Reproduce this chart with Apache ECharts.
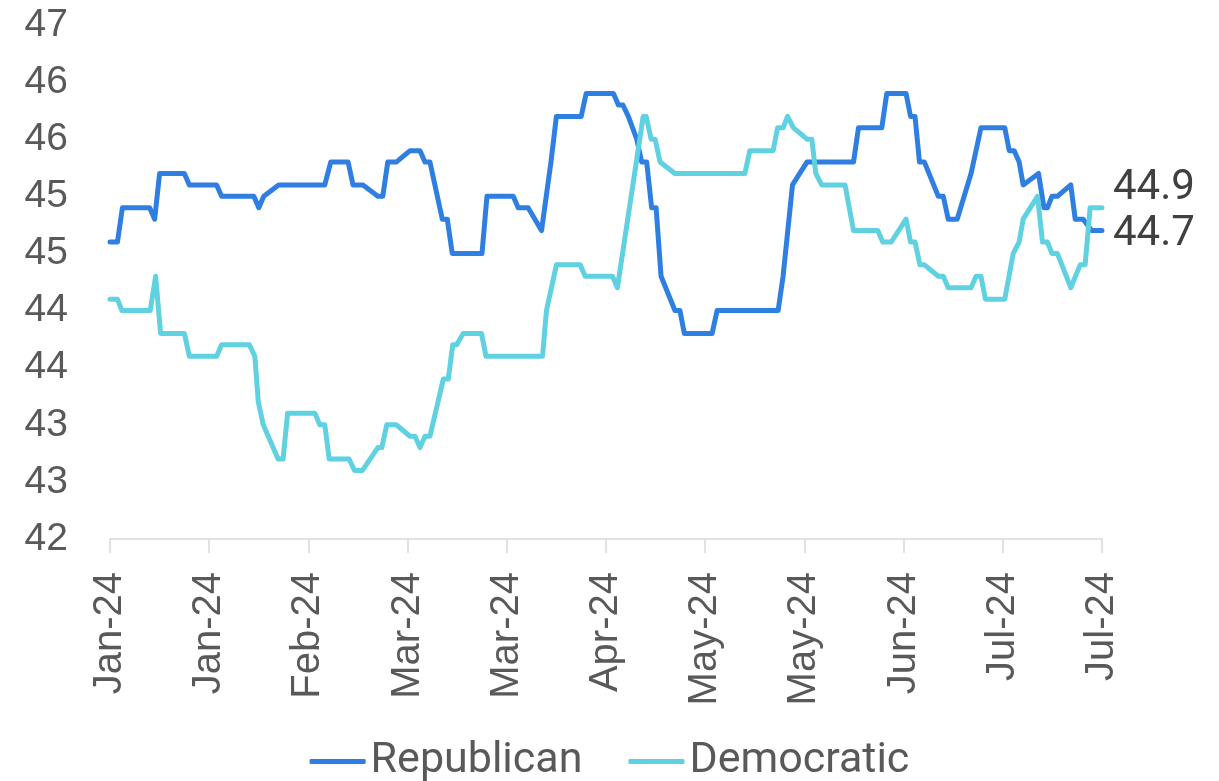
<!DOCTYPE html>
<html>
<head>
<meta charset="utf-8">
<script src="https://cdn.jsdelivr.net/npm/echarts@6/dist/echarts.min.js"></script>
<style>
html,body{margin:0;padding:0;background:#fff;}
#chart{width:1219px;height:781px;}
</style>
</head>
<body>
<div id="chart"></div>
<script>
// Day offsets from 2024-01-03 and values
const startDate = Date.UTC(2024, 0, 3);
const monthNames = ['Jan','Feb','Mar','Apr','May','Jun','Jul','Aug','Sep','Oct','Nov','Dec'];
const seriesNames = ['Republican', 'Democratic'];

const repDay = [0,1.5,2.5,8,9,10,15,16,21.5,22.5,29,30,31,34,43.3,44.5,48,49,51,54,55,56,57.7,60.5,62.5,63.5,64.5,67,68,69,75,76,81.3,82.3,84.3,87,88.9,90,95,96,101.5,102.5,103.4,104.5,106.2,107.2,108.2,109.2,110.1,111.1,113.9,114.9,115.8,121.4,122.4,134.7,135.7,137.6,140.5,149.9,150.9,155.6,156.6,160.5,161.4,162.3,163.2,164.2,167,168,169,170.8,173.6,175.6,180.4,181.3,182.3,183.3,184.1,187.2,188.3,189,189.9,191,193.7,194.6,196.2,197.9,200];
const repValue = [44.6,44.6,44.9,44.9,44.8,45.2,45.2,45.1,45.1,45.0,45.0,44.9,45.0,45.1,45.1,45.3,45.3,45.1,45.1,45.0,45.0,45.3,45.3,45.4,45.4,45.3,45.3,44.8,44.8,44.5,44.5,45.0,45.0,44.9,44.9,44.7,45.3,45.7,45.7,45.9,45.9,45.8,45.8,45.7,45.5,45.3,45.3,44.9,44.9,44.3,44.0,44.0,43.8,43.8,44.0,44.0,44.3,45.1,45.3,45.3,45.6,45.6,45.9,45.9,45.7,45.7,45.3,45.3,45.0,45.0,44.8,44.8,45.2,45.6,45.6,45.4,45.4,45.3,45.1,45.2,44.9,44.9,45.0,45.0,45.1,44.8,44.8,44.7,44.7];

const demDay = [0,1.5,2.4,8.1,9.2,10.2,15,16,21.5,22.5,28.1,29.2,29.9,30.9,33.9,34.9,35.8,41.3,42.3,43.3,44.2,48.2,49.3,50.9,54,54.8,55.8,57.7,60.5,61.5,62.5,63.5,64.5,67.2,68.2,69.1,69.9,71.2,74.9,75.8,87.2,88,90,94.8,95.8,101.3,102.3,107.5,108.1,109.1,109.9,110.9,113.9,128,129,133.7,134.6,135.7,136.6,137.8,140.5,141.5,142.3,143.5,148.2,149.9,154.8,155.8,157.5,160.5,161.4,162.3,163.3,164.2,167,168,169,173.6,174.6,175.6,176.5,180.4,182.1,183.3,184.1,187,188,189,189.9,191,193.7,195.6,196.6,197.6,200];
const demValue = [44.1,44.1,44.0,44.0,44.3,43.8,43.8,43.6,43.6,43.7,43.7,43.6,43.2,43.0,42.7,42.7,43.1,43.1,43.0,43.0,42.7,42.7,42.6,42.6,42.8,42.8,43.0,43.0,42.9,42.9,42.8,42.9,42.9,43.4,43.4,43.7,43.7,43.8,43.8,43.6,43.6,44.0,44.4,44.4,44.3,44.3,44.2,45.7,45.7,45.5,45.5,45.3,45.2,45.2,45.4,45.4,45.6,45.6,45.7,45.6,45.5,45.5,45.2,45.1,45.1,44.7,44.7,44.6,44.6,44.8,44.6,44.6,44.4,44.4,44.3,44.3,44.2,44.2,44.3,44.3,44.1,44.1,44.5,44.6,44.8,45.0,44.6,44.6,44.5,44.5,44.2,44.4,44.4,44.9,44.9];

const xMin = 0, xMax = 200, xInterval = 20;
const yMin = 42, yMax = 46.5, yInterval = 0.5;

function pairs(days, vals){ return days.map((d,i)=>[d, vals[i]]); }
function dayLabel(d){
  const dt = new Date(startDate + d*86400000);
  return monthNames[dt.getUTCMonth()] + '-' + String(dt.getUTCFullYear()).slice(2);
}

const chart = echarts.init(document.getElementById('chart'), null, {renderer:'canvas'});
const axisFont = '"Liberation Sans", Arial, sans-serif';
const textFont = 'Roboto, sans-serif';
chart.setOption({
  animation: false,
  backgroundColor: '#ffffff',
  grid: {left: 110, right: 117, top: 25, bottom: 242, containLabel: false},
  xAxis: {
    type: 'value', min: xMin, max: xMax, interval: xInterval,
    axisLine: {show: true, lineStyle: {color: '#d9d9d9', width: 1.5}},
    axisTick: {show: true, length: 14, lineStyle: {color: '#d9d9d9', width: 1.5}},
    splitLine: {show: false},
    axisLabel: {rotate: 90, margin: 33, color: '#595959', fontSize: 40, fontFamily: axisFont,
      formatter: v => dayLabel(v)}
  },
  yAxis: {
    type: 'value', min: yMin, max: yMax, interval: yInterval,
    axisLine: {show: false}, axisTick: {show: false}, splitLine: {show: false},
    axisLabel: {margin: 42, color: '#595959', fontSize: 39, fontFamily: axisFont,
      formatter: v => String(Math.round(v))}
  },
  legend: {
    top: 735, left: 'center', itemWidth: 56, itemHeight: 5, itemGap: 46,
    icon: 'roundRect',
    textStyle: {color: '#595959', fontSize: 43, fontFamily: textFont},
    data: seriesNames
  },
  series: [
    {name: seriesNames[0], type: 'line', data: pairs(repDay, repValue), showSymbol: false,
     symbol: 'none', color: '#2e7fe1',
     lineStyle: {width: 5, color: '#2e7fe1', cap: 'round', join: 'round'},
     endLabel: {show: true, formatter: p => p.value[1].toFixed(1), color: '#404040',
       fontSize: 42, fontFamily: textFont, offset: [3, 4]}},
    {name: seriesNames[1], type: 'line', data: pairs(demDay, demValue), showSymbol: false,
     symbol: 'none', color: '#5fd1e0',
     lineStyle: {width: 5, color: '#5fd1e0', cap: 'round', join: 'round'},
     endLabel: {show: true, formatter: p => p.value[1].toFixed(1), color: '#404040',
       fontSize: 42, fontFamily: textFont, offset: [3, -19]}}
  ]
});
</script>
</body>
</html>
